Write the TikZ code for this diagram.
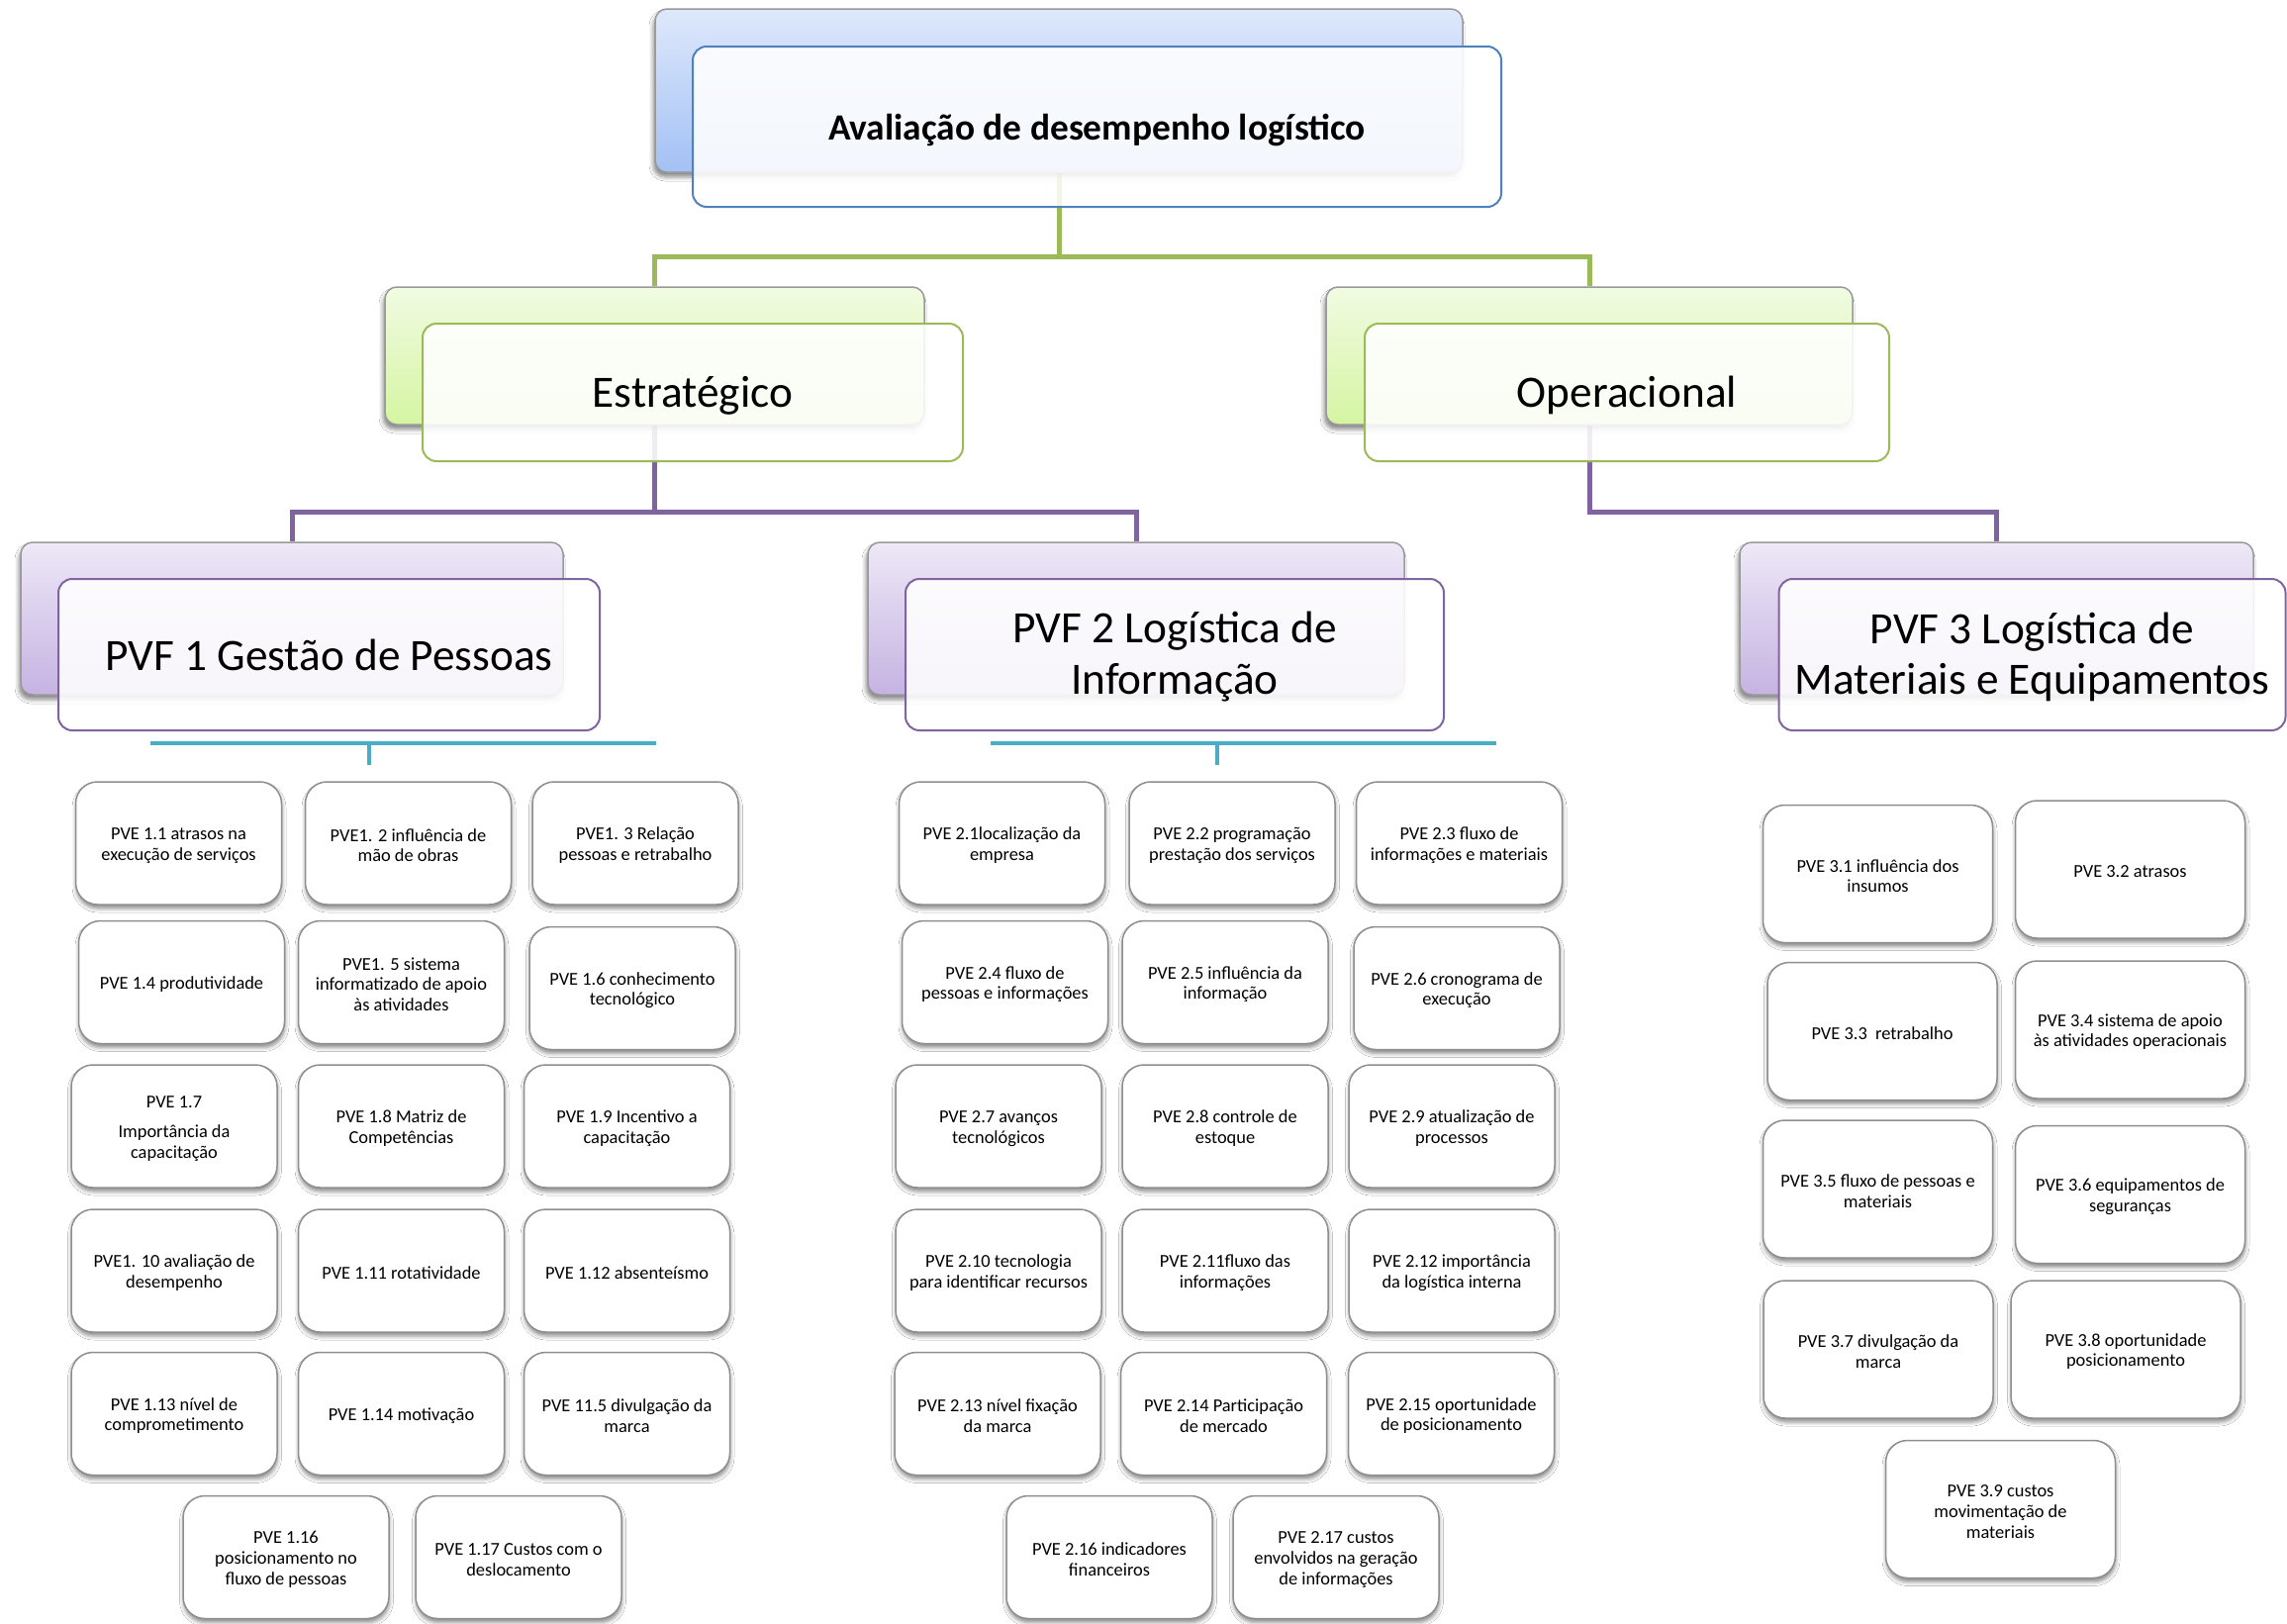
\documentclass[tikz,border=0pt]{standalone}
\usepackage{fontspec}
\setmainfont{Carlito}
\usetikzlibrary{shadows.blur}
\pgfdeclarelayer{bg}
\pgfsetlayers{bg,main}

\definecolor{accblue}{HTML}{4F81BD}
\definecolor{accgreen}{HTML}{9BBB59}
\definecolor{accpurple}{HTML}{8064A2}
\definecolor{acccyan}{HTML}{4BACC6}
\definecolor{bluetop}{HTML}{DEE8FB}
\definecolor{bluebot}{HTML}{A3C1F5}
\definecolor{greentop}{HTML}{F1FBE2}
\definecolor{greenbot}{HTML}{D5F5A2}
\definecolor{purpletop}{HTML}{EEE8F7}
\definecolor{purplebot}{HTML}{C5B3E2}
\definecolor{boxline}{HTML}{8E8E8E}

% raises the top of the first text line so the text sits a little lower
\newcommand{\toppad}[1]{\rule{0pt}{#1}}

\tikzset{
  backbox/.style={rounded corners=12pt, draw=gray!80, line width=1.5pt,
    blur shadow={shadow xshift=-2pt, shadow yshift=-5pt, shadow blur radius=4pt,
      shadow opacity=45}},
  frontbox/.style={rounded corners=14pt, line width=2pt, fill=white,
    fill opacity=0.88, text opacity=1, align=center, text=black},
  lvltwo/.style={frontbox, draw=accgreen, font=\fontsize{45.3}{51.5}\selectfont},
  pvfbox/.style={frontbox, draw=accpurple, font=\fontsize{45.3}{51.5}\selectfont},
  pve/.style={rounded corners=22pt, draw=boxline, line width=1.5pt, fill=white,
    align=center, text=black, inner sep=0pt,
    font=\fontsize{18.4}{20.8}\selectfont,
    blur shadow={shadow xshift=0.5pt, shadow yshift=-4pt, shadow blur radius=4pt,
      shadow opacity=45}},
  pvea/.style={pve, minimum width=208pt, minimum height=124pt},
  pvec/.style={pve, minimum width=232pt, minimum height=139pt},
  gline/.style={draw=accgreen, line width=5pt},
  pline/.style={draw=accpurple, line width=5pt},
  cline/.style={draw=acccyan, line width=3.5pt},
}

\begin{document}
\begin{tikzpicture}[x=1pt, y=-1pt]
\path[use as bounding box] (0,0) rectangle (2311,1641);

% ---- root ----
\node[backbox, top color=bluetop, bottom color=bluebot,
  minimum width=816pt, minimum height=165pt] (topback) at (1070,91.5) {};
\node[frontbox, draw=accblue, minimum width=817pt, minimum height=162pt,
  font=\bfseries\fontsize{37.4}{44}\selectfont] (topfront) at (1108.5,128)
  {\toppad{34pt}Avaliação de desempenho logístico};

% ---- second level ----
\node[backbox, top color=greentop, bottom color=greenbot,
  minimum width=545pt, minimum height=139pt] (estback) at (661.5,359.5) {};
\node[lvltwo, minimum width=546pt, minimum height=139pt] (estfront) at (700,396.5)
  {\toppad{38pt}Estratégico};
\node[backbox, top color=greentop, bottom color=greenbot,
  minimum width=532pt, minimum height=139pt] (opback) at (1606,359.5) {};
\node[lvltwo, minimum width=530pt, minimum height=139pt] (opfront) at (1644,396.5)
  {\toppad{38pt}Operacional};

% ---- third level ----
\node[backbox, top color=purpletop, bottom color=purplebot,
  minimum width=548pt, minimum height=154pt] (pvfoneback) at (295,625) {};
\node[pvfbox, minimum width=547pt, minimum height=153pt] (pvfonefront) at (332.5,661.5)
  {PVF 1 Gestão de Pessoas};
\node[backbox, top color=purpletop, bottom color=purplebot,
  minimum width=542pt, minimum height=154pt] (pvftwoback) at (1148,625) {};
\node[pvfbox, minimum width=544pt, minimum height=153pt] (pvftwofront) at (1187,661.5)
  {\toppad{36pt}PVF 2 Logística de\\Informação};
\node[backbox, top color=purpletop, bottom color=purplebot,
  minimum width=519pt, minimum height=154pt] (pvfthreeback) at (2017.5,625) {};
\node[pvfbox, minimum width=512pt, minimum height=153pt] (pvfthreefront) at (2053.5,661.5)
  {\toppad{36pt}PVF 3 Logística de\\Materiais e Equipamentos};

% ---- PVE items, first group ----
\node[pvea] (e11) at (180.5,852) {\toppad{17pt}PVE 1.1 atrasos na\\execução de serviços};
\node[pvea] (e12) at (412.5,852) {\toppad{17pt}PVE1. 2 influência de\\mão de obras};
\node[pvea] (e13) at (642,852) {\toppad{17pt}PVE1. 3 Relação\\pessoas e retrabalho};
\node[pvea] (e14) at (183.5,992.5) {\toppad{17pt}PVE 1.4 produtividade};
\node[pvea] (e15) at (405.5,992.5) {\toppad{17pt}PVE1. 5 sistema\\informatizado de apoio\\às atividades};
\node[pvea] (e16) at (639,998.5) {\toppad{17pt}PVE 1.6 conhecimento\\tecnológico};
\node[pvea] (e17) at (176,1138) {\toppad{17pt}PVE 1.7\\[9pt]Importância da\\capacitação};
\node[pvea] (e18) at (405.5,1138) {\toppad{17pt}PVE 1.8 Matriz de\\Competências};
\node[pvea] (e19) at (633.5,1138) {\toppad{17pt}PVE 1.9 Incentivo a\\capacitação};
\node[pvea] (e110) at (176,1284) {\toppad{17pt}PVE1. 10 avaliação de\\desempenho};
\node[pvea] (e111) at (405.5,1284) {\toppad{17pt}PVE 1.11 rotatividade};
\node[pvea] (e112) at (633.5,1284) {\toppad{17pt}PVE 1.12 absenteísmo};
\node[pvea] (e113) at (176,1428.5) {\toppad{17pt}PVE 1.13 nível de\\comprometimento};
\node[pvea] (e114) at (405.5,1428.5) {\toppad{17pt}PVE 1.14 motivação};
\node[pvea] (e115) at (633.5,1428.5) {\toppad{17pt}PVE 11.5 divulgação da\\marca};
\node[pvea] (e116) at (289,1573.5) {\toppad{17pt}PVE 1.16\\posicionamento no\\fluxo de pessoas};
\node[pvea] (e117) at (524,1573.5) {\toppad{17pt}PVE 1.17 Custos com o\\deslocamento};

% ---- PVE items, second group ----
\node[pvea] (e21) at (1012.5,852) {\toppad{17pt}PVE 2.1localização da\\empresa};
\node[pvea] (e22) at (1245,852) {\toppad{17pt}PVE 2.2 programação\\prestação dos serviços};
\node[pvea] (e23) at (1474.5,852) {\toppad{17pt}PVE 2.3 fluxo de\\informações e materiais};
\node[pvea] (e24) at (1015.5,992.5) {\toppad{17pt}PVE 2.4 fluxo de\\pessoas e informações};
\node[pvea] (e25) at (1238,992.5) {\toppad{17pt}PVE 2.5 influência da\\informação};
\node[pvea] (e26) at (1472,998.5) {\toppad{17pt}PVE 2.6 cronograma de\\execução};
\node[pvea] (e27) at (1009,1138) {\toppad{17pt}PVE 2.7 avanços\\tecnológicos};
\node[pvea] (e28) at (1238,1138) {\toppad{17pt}PVE 2.8 controle de\\estoque};
\node[pvea] (e29) at (1467,1138) {\toppad{17pt}PVE 2.9 atualização de\\processos};
\node[pvea] (e210) at (1009,1284) {\toppad{17pt}PVE 2.10 tecnologia\\para identificar recursos};
\node[pvea] (e211) at (1238,1284) {\toppad{17pt}PVE 2.11fluxo das\\informações};
\node[pvea] (e212) at (1467,1284) {\toppad{17pt}PVE 2.12 importância\\da logística interna};
\node[pvea] (e213) at (1008,1428.5) {\toppad{17pt}PVE 2.13 nível fixação\\da marca};
\node[pvea] (e214) at (1236.5,1428.5) {\toppad{17pt}PVE 2.14 Participação\\de mercado};
\node[pvea] (e215) at (1466.5,1428.5) {\toppad{17pt}PVE 2.15 oportunidade\\de posicionamento};
\node[pvea] (e216) at (1121,1573.5) {\toppad{17pt}PVE 2.16 indicadores\\financeiros};
\node[pvea] (e217) at (1350,1573.5) {\toppad{17pt}PVE 2.17 custos\\envolvidos na geração\\de informações};

% ---- PVE items, third group ----
\node[pvec] (e31) at (1897.5,883) {\toppad{17pt}PVE 3.1 influência dos\\insumos};
\node[pvec] (e32) at (2152.5,878.5) {\toppad{17pt}PVE 3.2 atrasos};
\node[pvec] (e33) at (1902,1042) {\toppad{17pt}PVE 3.3\ \ retrabalho};
\node[pvec] (e34) at (2152.5,1040.5) {\toppad{17pt}PVE 3.4 sistema de apoio\\às atividades operacionais};
\node[pvec] (e35) at (1897.5,1201.5) {\toppad{17pt}PVE 3.5 fluxo de pessoas e\\materiais};
\node[pvec] (e36) at (2152.5,1207) {\toppad{17pt}PVE 3.6 equipamentos de\\seguranças};
\node[pvec] (e37) at (1898,1363.5) {\toppad{17pt}PVE 3.7 divulgação da\\marca};
\node[pvec] (e38) at (2148,1363.5) {\toppad{17pt}PVE 3.8 oportunidade\\posicionamento};
\node[pvec] (e39) at (2021.5,1525) {\toppad{17pt}PVE 3.9 custos\\movimentação de\\materiais};

% ---- connectors, kept beneath the boxes ----
\coordinate (gjoin) at (1070,259);
\coordinate (pjoinA) at (661.5,517);
\coordinate (pjoinB) at (1606,517);
\coordinate (cAl) at (152,751);
\coordinate (cAr) at (663,751);
\coordinate (cAm) at (373,751);
\coordinate (cAd) at (373,773);
\coordinate (cBl) at (1001,751);
\coordinate (cBr) at (1512,751);
\coordinate (cBm) at (1230,751);
\coordinate (cBd) at (1230,773);

\begin{pgfonlayer}{bg}
  \fill[white] (0,0) rectangle (2311,1641);
  \draw[gline] (topback.south) -- (gjoin);
  \draw[gline] (estback.north) |- (gjoin) -| (opback.north);
  \draw[pline] (estback.south) -- (pjoinA);
  \draw[pline] (pvfoneback.north) |- (pjoinA) -| (pvftwoback.north);
  \draw[pline] (opback.south) -- (pjoinB) -| (pvfthreeback.north);
  \draw[cline] (cAl) -- (cAr);
  \draw[cline] (cAm) -- (cAd);
  \draw[cline] (cBl) -- (cBr);
  \draw[cline] (cBm) -- (cBd);
\end{pgfonlayer}
\end{tikzpicture}
\end{document}
